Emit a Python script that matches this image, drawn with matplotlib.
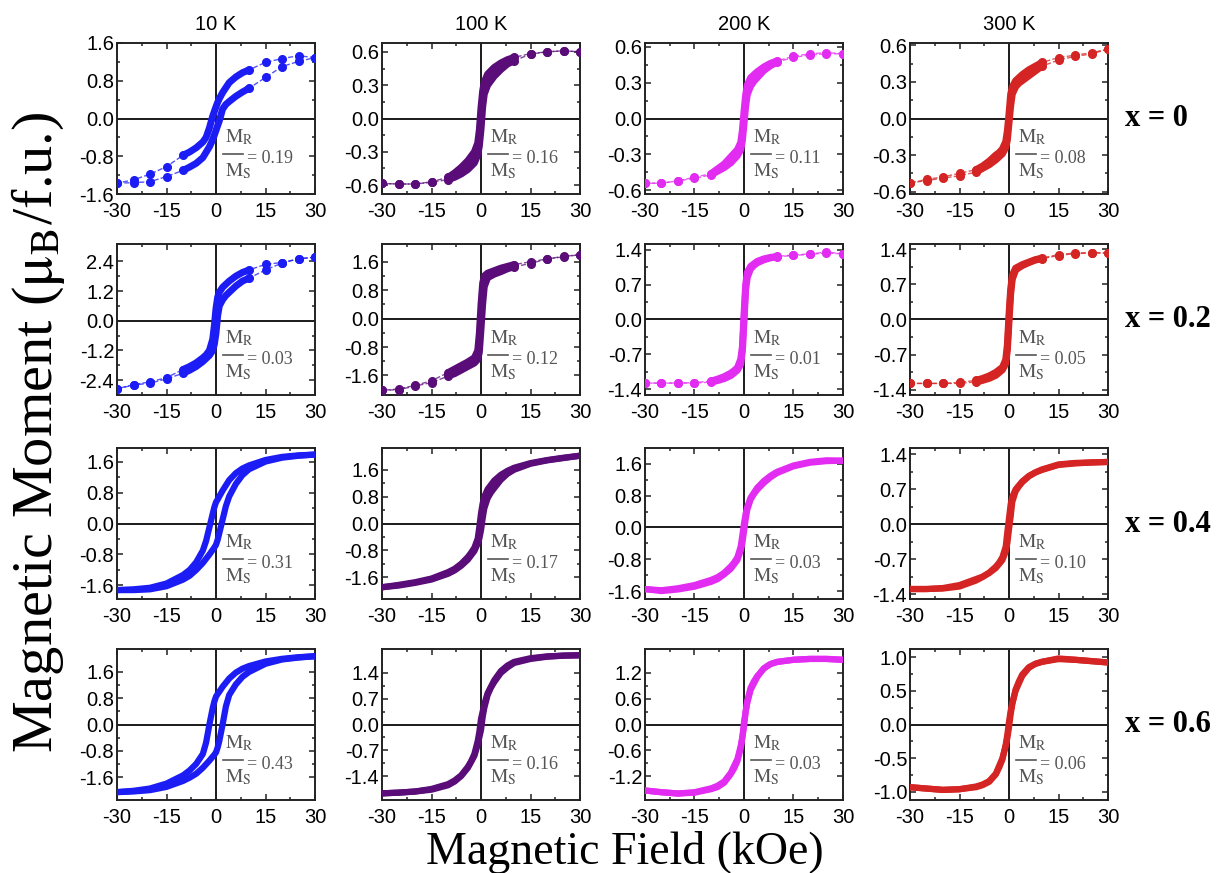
import numpy as np
import matplotlib
matplotlib.use("Agg")
import matplotlib.pyplot as plt
from matplotlib.ticker import MultipleLocator, FixedLocator

plt.rcParams['axes.unicode_minus'] = False
plt.rcParams['mathtext.fontset'] = 'stix'

# ---------------- data ----------------
temperatures = ['10 K', '100 K', '200 K', '300 K']
compositions = ['x = 0', 'x = 0.2', 'x = 0.4', 'x = 0.6']
colors = ['#1c1cf5', '#5a0c78', '#e32cf2', '#d42424']
ratios = [['0.19', '0.16', '0.11', '0.08'],
          ['0.03', '0.12', '0.01', '0.05'],
          ['0.31', '0.17', '0.03', '0.10'],
          ['0.43', '0.16', '0.03', '0.06']]

# field of the descending sweep (kOe); the ascending sweep uses the negated values
H_down = [30, 25, 20, 15, 10, 8, 6, 4, 2, 1, 0.5, 0, -0.5, -1, -2, -3, -4, -6, -8, -10, -15, -20, -25, -30]

# x = 0
M_x0_10K_dn = [1.29, 1.33, 1.27, 1.19, 1.03, 0.97, 0.88, 0.76, 0.55, 0.42, 0.34, 0.25, 0.15, 0.05, -0.2, -0.4, -0.5, -0.62, -0.71, -0.78, -1.02, -1.18, -1.3, -1.37]
M_x0_10K_up = [-1.37, -1.36, -1.34, -1.23, -1.1, -1.03, -0.95, -0.83, -0.6, -0.45, -0.35, -0.25, -0.15, -0.05, 0.2, 0.3, 0.36, 0.47, 0.56, 0.64, 0.87, 1.1, 1.21, 1.29]
M_x0_100K_dn = [0.6, 0.61, 0.6, 0.585, 0.55, 0.53, 0.5, 0.46, 0.4, 0.33, 0.25, 0.1, -0.1, -0.22, -0.3, -0.34, -0.38, -0.44, -0.49, -0.53, -0.57, -0.59, -0.59, -0.585]
M_x0_100K_up = [-0.585, -0.59, -0.59, -0.575, -0.55, -0.53, -0.5, -0.46, -0.4, -0.33, -0.25, -0.1, 0.1, 0.22, 0.3, 0.34, 0.38, 0.44, 0.49, 0.52, 0.58, 0.6, 0.61, 0.6]
M_x0_200K_dn = [0.54, 0.55, 0.54, 0.52, 0.48, 0.46, 0.43, 0.39, 0.34, 0.28, 0.2, 0.06, -0.1, -0.2, -0.26, -0.29, -0.32, -0.38, -0.42, -0.46, -0.49, -0.52, -0.54, -0.54]
M_x0_200K_up = [-0.54, -0.54, -0.52, -0.5, -0.47, -0.44, -0.41, -0.37, -0.31, -0.26, -0.19, -0.05, 0.1, 0.2, 0.27, 0.31, 0.34, 0.4, 0.44, 0.47, 0.51, 0.53, 0.54, 0.54]
M_x0_300K_dn = [0.57, 0.54, 0.52, 0.5, 0.46, 0.43, 0.4, 0.36, 0.31, 0.26, 0.2, 0.04, -0.1, -0.19, -0.25, -0.28, -0.3, -0.35, -0.39, -0.42, -0.45, -0.48, -0.5, -0.53]
M_x0_300K_up = [-0.53, -0.51, -0.49, -0.47, -0.44, -0.41, -0.38, -0.34, -0.29, -0.24, -0.18, -0.04, 0.1, 0.2, 0.26, 0.29, 0.31, 0.35, 0.39, 0.43, 0.48, 0.51, 0.53, 0.57]
# x = 0.2
M_x02_10K_dn = [2.57, 2.5, 2.35, 2.28, 2.05, 1.95, 1.8, 1.6, 1.35, 1.15, 0.95, 0.5, -0.2, -0.75, -1.2, -1.38, -1.5, -1.7, -1.85, -1.97, -2.3, -2.47, -2.58, -2.75]
M_x02_10K_up = [-2.75, -2.6, -2.52, -2.35, -2.12, -2.0, -1.85, -1.65, -1.4, -1.2, -0.95, -0.5, 0.2, 0.6, 0.85, 1.02, 1.15, 1.4, 1.6, 1.72, 2.05, 2.33, 2.5, 2.57]
M_x02_100K_dn = [1.8, 1.75, 1.68, 1.6, 1.52, 1.47, 1.42, 1.35, 1.28, 1.2, 1.0, 0.4, -0.4, -0.9, -1.1, -1.16, -1.22, -1.32, -1.42, -1.52, -1.75, -1.88, -1.98, -2.02]
M_x02_100K_up = [-2.02, -2.0, -1.9, -1.8, -1.62, -1.55, -1.45, -1.35, -1.25, -1.15, -0.95, -0.3, 0.4, 0.9, 1.15, 1.2, 1.25, 1.32, 1.4, 1.46, 1.55, 1.68, 1.74, 1.8]
M_x02_200K_dn = [1.32, 1.36, 1.32, 1.3, 1.27, 1.25, 1.22, 1.17, 1.07, 0.95, 0.7, 0.1, -0.55, -0.8, -0.97, -1.03, -1.08, -1.15, -1.2, -1.24, -1.27, -1.28, -1.28, -1.28]
M_x02_200K_up = [-1.28, -1.28, -1.28, -1.28, -1.26, -1.23, -1.19, -1.13, -1.02, -0.9, -0.65, -0.05, 0.6, 0.85, 1.02, 1.09, 1.14, 1.2, 1.24, 1.26, 1.29, 1.31, 1.34, 1.32]
M_x02_300K_dn = [1.32, 1.33, 1.32, 1.29, 1.22, 1.19, 1.14, 1.09, 1.02, 0.88, 0.6, 0.1, -0.5, -0.8, -0.95, -1.0, -1.05, -1.12, -1.17, -1.21, -1.25, -1.27, -1.27, -1.27]
M_x02_300K_up = [-1.27, -1.27, -1.27, -1.27, -1.24, -1.21, -1.17, -1.11, -1.0, -0.88, -0.62, -0.05, 0.5, 0.8, 0.98, 1.03, 1.07, 1.13, 1.18, 1.21, 1.27, 1.31, 1.32, 1.32]
# x = 0.4
M_x04_10K_dn = [1.78, 1.76, 1.72, 1.64, 1.5, 1.42, 1.3, 1.12, 0.85, 0.7, 0.62, 0.55, 0.42, 0.25, -0.1, -0.45, -0.7, -1.0, -1.2, -1.33, -1.55, -1.66, -1.7, -1.72]
M_x04_10K_up = [-1.72, -1.72, -1.7, -1.62, -1.45, -1.35, -1.2, -1.02, -0.8, -0.68, -0.62, -0.55, -0.42, -0.25, 0.1, 0.45, 0.7, 1.02, 1.25, 1.4, 1.6, 1.7, 1.75, 1.78]
M_x04_100K_dn = [2.02, 1.96, 1.89, 1.8, 1.66, 1.57, 1.45, 1.28, 1.02, 0.8, 0.6, 0.3, -0.1, -0.45, -0.72, -0.87, -1.0, -1.2, -1.35, -1.45, -1.64, -1.75, -1.83, -1.9]
M_x04_100K_up = [-1.9, -1.85, -1.77, -1.67, -1.5, -1.4, -1.26, -1.08, -0.82, -0.6, -0.45, -0.2, 0.15, 0.45, 0.75, 0.92, 1.05, 1.3, 1.48, 1.6, 1.78, 1.88, 1.95, 2.02]
M_x04_200K_dn = [1.68, 1.69, 1.65, 1.56, 1.4, 1.3, 1.17, 1.0, 0.75, 0.52, 0.35, 0.1, -0.2, -0.48, -0.75, -0.88, -0.98, -1.14, -1.25, -1.32, -1.45, -1.53, -1.58, -1.55]
M_x04_200K_up = [-1.55, -1.6, -1.56, -1.49, -1.37, -1.3, -1.18, -1.04, -0.82, -0.58, -0.4, -0.1, 0.2, 0.45, 0.7, 0.84, 0.95, 1.12, 1.26, 1.37, 1.54, 1.63, 1.67, 1.68]
M_x04_300K_dn = [1.25, 1.24, 1.23, 1.2, 1.1, 1.04, 0.97, 0.86, 0.7, 0.55, 0.4, 0.12, -0.15, -0.45, -0.66, -0.77, -0.85, -0.97, -1.05, -1.1, -1.22, -1.28, -1.3, -1.3]
M_x04_300K_up = [-1.3, -1.3, -1.29, -1.25, -1.13, -1.06, -0.98, -0.88, -0.72, -0.55, -0.38, -0.1, 0.15, 0.45, 0.66, 0.76, 0.84, 0.96, 1.04, 1.09, 1.19, 1.22, 1.24, 1.25]
# x = 0.6
M_x06_10K_dn = [2.08, 2.05, 2.0, 1.92, 1.78, 1.7, 1.58, 1.4, 1.15, 1.0, 0.93, 0.85, 0.7, 0.5, 0.0, -0.55, -0.9, -1.2, -1.4, -1.55, -1.8, -1.95, -2.02, -2.06]
M_x06_10K_up = [-2.06, -2.04, -2.0, -1.9, -1.72, -1.62, -1.5, -1.32, -1.1, -0.98, -0.92, -0.85, -0.7, -0.5, 0.0, 0.55, 0.9, 1.22, 1.45, 1.6, 1.85, 1.98, 2.04, 2.08]
M_x06_100K_dn = [1.88, 1.87, 1.85, 1.8, 1.7, 1.6, 1.45, 1.2, 0.85, 0.55, 0.35, 0.15, -0.2, -0.45, -0.8, -1.0, -1.15, -1.38, -1.52, -1.62, -1.75, -1.82, -1.85, -1.87]
M_x06_100K_up = [-1.87, -1.85, -1.82, -1.77, -1.65, -1.55, -1.4, -1.18, -0.85, -0.55, -0.35, -0.15, 0.2, 0.45, 0.8, 1.0, 1.15, 1.4, 1.55, 1.67, 1.78, 1.84, 1.87, 1.88]
M_x06_200K_dn = [1.5, 1.52, 1.52, 1.5, 1.45, 1.4, 1.3, 1.1, 0.8, 0.5, 0.3, 0.05, -0.3, -0.55, -0.85, -1.02, -1.15, -1.35, -1.45, -1.5, -1.58, -1.6, -1.57, -1.53]
M_x06_200K_up = [-1.53, -1.57, -1.6, -1.57, -1.48, -1.42, -1.32, -1.12, -0.8, -0.5, -0.3, -0.05, 0.3, 0.55, 0.85, 1.0, 1.12, 1.3, 1.4, 1.45, 1.5, 1.52, 1.52, 1.5]
M_x06_300K_dn = [0.92, 0.94, 0.96, 0.98, 0.93, 0.9, 0.84, 0.72, 0.5, 0.32, 0.2, 0.04, -0.15, -0.3, -0.52, -0.64, -0.74, -0.85, -0.9, -0.93, -0.96, -0.97, -0.95, -0.93]
M_x06_300K_up = [-0.93, -0.95, -0.97, -0.96, -0.92, -0.89, -0.84, -0.73, -0.5, -0.32, -0.2, -0.04, 0.15, 0.3, 0.52, 0.64, 0.74, 0.85, 0.9, 0.93, 0.97, 0.96, 0.94, 0.92]

loops = [
    [(M_x0_10K_dn, M_x0_10K_up), (M_x0_100K_dn, M_x0_100K_up), (M_x0_200K_dn, M_x0_200K_up), (M_x0_300K_dn, M_x0_300K_up)],
    [(M_x02_10K_dn, M_x02_10K_up), (M_x02_100K_dn, M_x02_100K_up), (M_x02_200K_dn, M_x02_200K_up), (M_x02_300K_dn, M_x02_300K_up)],
    [(M_x04_10K_dn, M_x04_10K_up), (M_x04_100K_dn, M_x04_100K_up), (M_x04_200K_dn, M_x04_200K_up), (M_x04_300K_dn, M_x04_300K_up)],
    [(M_x06_10K_dn, M_x06_10K_up), (M_x06_100K_dn, M_x06_100K_up), (M_x06_200K_dn, M_x06_200K_up), (M_x06_300K_dn, M_x06_300K_up)],
]

y_limits = [[(-1.6, 1.6), (-0.68, 0.68), (-0.63, 0.63), (-0.62, 0.62)],
            [(-3.0, 3.1), (-2.15, 2.1), (-1.52, 1.52), (-1.5, 1.5)],
            [(-1.95, 1.95), (-2.25, 2.25), (-1.8, 2.0), (-1.5, 1.53)],
            [(-2.3, 2.3), (-2.05, 2.05), (-1.75, 1.75), (-1.12, 1.12)]]
y_steps = [[0.8, 0.3, 0.3, 0.3],
           [1.2, 0.8, 0.7, 0.7],
           [0.8, 0.8, 0.8, 0.7],
           [0.8, 0.7, 0.6, 0.5]]
x_ticks = [-30, -15, 0, 15, 30]

# ---------------- layout ----------------
W, Hpx = 1223, 873
fig = plt.figure(figsize=(W / 100, Hpx / 100), dpi=100)
col_left = [117, 382, 645, 910]
row_top = [43, 244, 448, 649]
aw, ah = 198, 151

tick_font = dict(family='Liberation Sans', size=14.5)
serif = 'Liberation Serif'
ann_color = '#555555'

for r in range(4):
    for c in range(4):
        ax = fig.add_axes([col_left[c] / W, 1 - (row_top[r] + ah) / Hpx, aw / W, ah / Hpx])
        col = colors[c]
        Hd = np.array(H_down, dtype=float)
        Hu = -Hd
        Md = np.array(loops[r][c][0])
        Mu = np.array(loops[r][c][1])
        ax.axhline(0, color='#1a1a1a', lw=1.4, zorder=1)
        ax.axvline(0, color='#1a1a1a', lw=1.4, zorder=1)
        if r < 2:
            for Hb, Mb in ((Hd, Md), (Hu, Mu)):
                ax.plot(Hb, Mb, ls='--', lw=1.0, color=col, alpha=0.75, zorder=2)
                far = np.abs(Hb) >= 10
                ax.plot(Hb[far], Mb[far], ls='none', marker='o', ms=5.5, color=col, zorder=3)
                near = np.abs(Hb) <= 10
                ax.plot(Hb[near], Mb[near], ls='-', lw=5, color=col,
                        solid_capstyle='round', solid_joinstyle='round', zorder=3)
        else:
            for Hb, Mb in ((Hd, Md), (Hu, Mu)):
                ax.plot(Hb, Mb, ls='-', lw=4.5, color=col,
                        solid_capstyle='round', solid_joinstyle='round', zorder=3)
        ax.set_xlim(-30, 30)
        ax.set_ylim(*y_limits[r][c])
        st = y_steps[r][c]
        ax.yaxis.set_major_locator(FixedLocator([-2 * st, -st, 0, st, 2 * st]))
        ax.yaxis.set_minor_locator(FixedLocator([-1.5 * st, -0.5 * st, 0.5 * st, 1.5 * st]))
        ax.set_yticklabels(['%.1f' % v for v in [-2 * st, -st, 0, st, 2 * st]], fontdict=tick_font)
        ax.xaxis.set_major_locator(FixedLocator(x_ticks))
        ax.xaxis.set_minor_locator(MultipleLocator(7.5))
        ax.set_xticklabels([str(v) for v in x_ticks], fontdict=tick_font)
        ax.tick_params(which='both', direction='in', top=True, right=True, width=1.1, color='#222222')
        ax.tick_params(axis='y', which='major', length=4, pad=2)
        ax.tick_params(axis='x', which='major', length=4, pad=6)
        ax.tick_params(which='minor', length=2.5)
        for sp in ax.spines.values():
            sp.set_linewidth(1.4)
            sp.set_color('#222222')
        # M_R / M_S annotation
        ax.text(0.545, 0.375, r'$\mathrm{M_R}$', transform=ax.transAxes, ha='left', va='center',
                fontsize=14, color=ann_color, zorder=5)
        ax.plot([0.535, 0.635], [0.265, 0.265], transform=ax.transAxes, color=ann_color,
                lw=1.2, zorder=5)
        ax.text(0.545, 0.15, r'$\mathrm{M_S}$', transform=ax.transAxes, ha='left', va='center',
                fontsize=14, color=ann_color, zorder=5)
        ax.text(0.655, 0.235, '= ' + ratios[r][c], transform=ax.transAxes, ha='left', va='center',
                fontsize=13, family=serif, color=ann_color, zorder=5)
        if r == 0:
            ax.set_title(temperatures[c], fontsize=14.5, family='Liberation Sans', pad=9)
        if c == 3:
            y0 = ax.transData.transform((0, 0))[1]
            fig.text(1125 / W, y0 / Hpx, compositions[r], ha='left', va='center',
                     fontsize=22, fontweight='bold', family=serif)

fig.text(38 / W, 1 - 432 / Hpx, r'Magnetic Moment ($\mathrm{\mu_B}$/f.u.)', rotation=90,
         ha='center', va='center', fontsize=42, family=serif)
fig.text(625 / W, 1 - 852 / Hpx, 'Magnetic Field (kOe)', ha='center', va='center',
         fontsize=33, family=serif)

fig.savefig('out.png', dpi=100)
